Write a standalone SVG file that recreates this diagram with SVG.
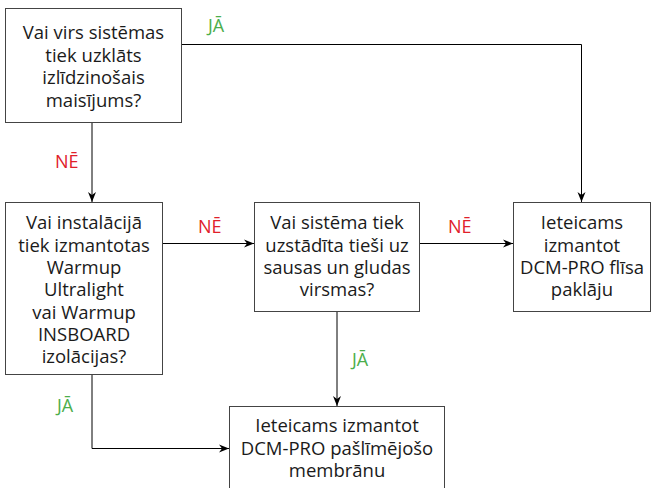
<svg xmlns="http://www.w3.org/2000/svg" width="652" height="488" viewBox="0 0 652 488">
<style>
.box{fill:#fff;stroke:#444;stroke-width:1}
.t{font-family:"Open Sans","Noto Sans",sans-serif;font-size:18.5px;fill:#1a1a1a;text-anchor:middle}
.lbl{font-family:"Open Sans","Noto Sans",sans-serif;font-size:18px;text-anchor:start}
.yes{fill:#4cae4c}
.no{fill:#e0202a}
.edge{fill:none;stroke:#000;stroke-width:1}
</style>
<defs>
<marker id="arr" viewBox="0 0 10 10" refX="10" refY="5" markerWidth="10" markerHeight="10" markerUnits="userSpaceOnUse" orient="auto">
<path d="M0,1 L10,5 L0,9 L3,5 Z" fill="#000"/>
</marker>
</defs>
<g id="connectors">
<path class="edge" d="M181.5,44.5 H581.5 V202" marker-end="url(#arr)"/>
<path class="edge" d="M92,122.5 V202" marker-end="url(#arr)"/>
<path class="edge" d="M162.5,243.5 H254" marker-end="url(#arr)"/>
<path class="edge" d="M419.5,243.5 H513" marker-end="url(#arr)"/>
<path class="edge" d="M337,311.5 V406" marker-end="url(#arr)"/>
<path class="edge" d="M92,374.5 V448.5 H229" marker-end="url(#arr)"/>
<text class="lbl yes" x="208" y="32">JĀ</text>
<text class="lbl no" x="55" y="168">NĒ</text>
<text class="lbl no" x="198" y="233">NĒ</text>
<text class="lbl no" x="448" y="233">NĒ</text>
<text class="lbl yes" x="352" y="366">JĀ</text>
<text class="lbl yes" x="57" y="412">JĀ</text>
</g>
<g id="q1">
<rect class="box" x="5.5" y="8.5" width="176" height="114"/>
<text class="t" x="93.5" y="39">Vai virs sistēmas</text>
<text class="t" x="93.5" y="61.5">tiek uzklāts</text>
<text class="t" x="93.5" y="84">izlīdzinošais</text>
<text class="t" x="93.5" y="106.5">maisījums?</text>
</g>
<g id="q2">
<rect class="box" x="5.5" y="202.5" width="157" height="172"/>
<text class="t" x="84" y="229.3">Vai instalācijā</text>
<text class="t" x="84" y="251.6">tiek izmantotas</text>
<text class="t" x="84" y="273.9">Warmup</text>
<text class="t" x="84" y="296.2">Ultralight</text>
<text class="t" x="84" y="318.5">vai Warmup</text>
<text class="t" x="84" y="340.8">INSBOARD</text>
<text class="t" x="84" y="363.1">izolācijas?</text>
</g>
<g id="q3">
<rect class="box" x="254.5" y="202.5" width="165" height="109"/>
<text class="t" x="337" y="229.3">Vai sistēma tiek</text>
<text class="t" x="337" y="251.6">uzstādīta tieši uz</text>
<text class="t" x="337" y="273.9">sausas un gludas</text>
<text class="t" x="337" y="296.2">virsmas?</text>
</g>
<g id="r1">
<rect class="box" x="513.5" y="202.5" width="137" height="109"/>
<text class="t" x="582" y="229.3">Ieteicams</text>
<text class="t" x="582" y="251.6">izmantot</text>
<text class="t" x="582" y="273.9">DCM-PRO flīsa</text>
<text class="t" x="582" y="296.2">paklāju</text>
</g>
<g id="r2">
<rect class="box" x="229.5" y="406.5" width="215" height="84"/>
<text class="t" x="337" y="432.3">Ieteicams izmantot</text>
<text class="t" x="337" y="454.5">DCM-PRO pašlīmējošo</text>
<text class="t" x="337" y="476.7">membrānu</text>
</g>
</svg>
